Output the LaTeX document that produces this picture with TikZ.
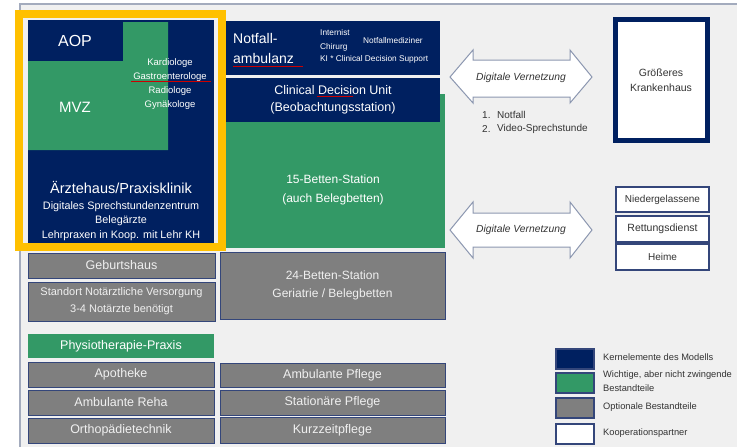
\documentclass[tikz,border=0pt]{standalone}
\usepackage{fontspec}
\setmainfont{Liberation Sans}
\definecolor{navy}{HTML}{002060}
\definecolor{grn}{HTML}{339966}
\definecolor{gry}{HTML}{7F7F7F}
\definecolor{ylw}{HTML}{FFC000}
\definecolor{bg}{HTML}{F0F0F0}
\definecolor{framec}{HTML}{A3ABBD}
\definecolor{edge}{HTML}{34467A}
\definecolor{arr}{HTML}{8C97B0}
\newcommand{\fs}[1]{\fontsize{#1}{#1}\selectfont}
\tikzset{
  box/.style={anchor=north west, inner sep=0pt, outer sep=0pt, align=center},
  navybox/.style={box, fill=navy, text=white},
  grnbox/.style={box, fill=grn, text=white},
  grybox/.style={box, fill=gry, draw=edge, line width=1pt, text=white!94!black},
  coopbox/.style={box, fill=white, draw=edge, line width=1.3pt, text=black!80},
  legbox/.style={box, draw=edge, line width=1.3pt, minimum width=38pt, minimum height=20pt},
  wtxt/.style={text=white, inner sep=0pt, align=center},
  ltxt/.style={text=black!80, inner sep=0pt, anchor=west},
  squig/.style={red!80!black, line width=0.6pt}
}
\begin{document}
\begin{tikzpicture}[x=1pt,y=-1pt]
\useasboundingbox (0,0) rectangle (737,447);
\fill[white] (0,0) rectangle (737,447);
\fill[bg] (20,4) rectangle (737,447);
\draw[framec, line width=2pt] (20,447) -- (20,4) -- (737,4);

% ---------- left column ----------
\node[navybox, minimum width=186pt, minimum height=227pt] (kern) at (28,20) {};
\fill[grn] (28,61) -- (123,61) -- (123,22) -- (168,22) -- (168,150) -- (28,150) -- cycle;
\node[wtxt, font=\fs{16}] (aop) at (75,41) {AOP};
\node[wtxt, font=\fs{15}] (mvz) at (75,107) {MVZ};
\node[wtxt, font=\fontsize{9.5}{14}\selectfont] (fach) at (170,84) {Kardiologe\\Gastroenterologe\\Radiologe\\Gynäkologe};
\draw[squig] (131,81) -- (211,81);
\node[wtxt, font=\fs{14.5}] (aerzte) at (121,188) {Ärztehaus/Praxisklinik};
\node[wtxt, font=\fs{10.8}] (digi) at (121,207) {Digitales Sprechstundenzentrum};
\node[wtxt, font=\fs{10.8}] (beleg) at (121,221) {Belegärzte};
\node[wtxt, font=\fs{10.8}] (lehr) at (121,236) {Lehrpraxen in Koop. mit Lehr KH};
\draw[ylw, line width=8pt] (19,14) rectangle (222,247);

\node[grybox, minimum width=187pt, minimum height=25pt, font=\fs{12.5}] (geburt) at (28,253) {Geburtshaus};
\node[grybox, minimum width=187pt, minimum height=39pt, font=\fontsize{11}{17}\selectfont] (standort) at (28,282) {Standort Notärztliche Versorgung\\3-4 Notärzte benötigt};
\node[grnbox, minimum width=186pt, minimum height=24pt, font=\fs{12.5}] (physio) at (28,334) {Physiotherapie-Praxis};
\node[grybox, minimum width=186pt, minimum height=25pt, font=\fs{12.5}] (apo) at (28,362) {Apotheke};
\node[grybox, minimum width=186pt, minimum height=25pt, font=\fs{12.5}] (reha) at (28,390) {Ambulante Reha};
\node[grybox, minimum width=186pt, minimum height=25pt, font=\fs{12.5}] (ortho) at (28,418) {Orthopädietechnik};

% ---------- middle column ----------
\node[grnbox, minimum width=219pt, minimum height=154pt] (station15) at (226,94) {};
\node[wtxt, font=\fontsize{12}{19}\selectfont] (st15txt) at (333,190) {15-Betten-Station\\(auch Belegbetten)};
\node[navybox, minimum width=214pt, minimum height=54pt] (notfall) at (226,21) {};
\node[wtxt, anchor=west, align=left, font=\fontsize{14}{20}\selectfont] (nftxt) at (233,48) {Notfall-\\ambulanz};
\draw[squig] (233,66) -- (303,66);
\node[wtxt, anchor=west, align=left, font=\fontsize{8.3}{14}\selectfont] (intern) at (320,40) {Internist\\Chirurg};
\node[wtxt, anchor=west, font=\fs{8.3}] (nfmed) at (363,41) {Notfallmediziner};
\node[wtxt, anchor=west, font=\fs{8.3}] (ki) at (320,59) {KI * Clinical Decision Support};
\node[navybox, minimum width=214pt, minimum height=44pt] (cdu) at (226,78) {};
\node[wtxt, font=\fontsize{12.5}{17.5}\selectfont] (cdutxt) at (333,100) {Clinical Decision Unit\\(Beobachtungsstation)};
\draw[squig] (317,96) -- (353,96);
\node[grybox, minimum width=225pt, minimum height=67pt, font=\fontsize{12}{18}\selectfont] (station24) at (220,252) {24-Betten-Station\\Geriatrie / Belegbetten};
\node[grybox, minimum width=225pt, minimum height=24pt, font=\fs{12.5}] (ambpfl) at (220,363) {Ambulante Pflege};
\node[grybox, minimum width=225pt, minimum height=25pt, font=\fs{12.5}] (statpfl) at (220,390) {Stationäre Pflege};
\node[grybox, minimum width=225pt, minimum height=26pt, font=\fs{12.5}] (kurz) at (220,417) {Kurzzeitpflege};

% ---------- right side ----------
\draw[arr, fill=white, line width=1pt] (450,77) -- (473,50) -- (473,60) -- (570,60) -- (570,50) -- (592,77) -- (570,103) -- (570,97) -- (473,97) -- (473,103) -- cycle;
\node[text=black!80, inner sep=0pt, font=\itshape\fs{10.3}] (dv1) at (521,78) {Digitale Vernetzung};
\node[ltxt, font=\fs{10}] (n1) at (482,115) {1.};
\node[ltxt, font=\fs{10}] (n1t) at (497,115) {Notfall};
\node[ltxt, font=\fs{10}] (n2) at (482,129) {2.};
\node[ltxt, font=\fs{10}] (n2t) at (497,129) {Video-Sprechstunde};

\node[box, fill=white, draw=navy, line width=5pt, minimum width=92pt, minimum height=121pt] (kh) at (615.5,19.5) {};
\node[text=black!80, inner sep=0pt, align=center, font=\fontsize{10.5}{15}\selectfont] (khtxt) at (661,80) {Größeres\\Krankenhaus};

\draw[arr, fill=white, line width=1pt] (450,230) -- (473,202) -- (473,213) -- (570,213) -- (570,202) -- (592,230) -- (570,258) -- (570,247) -- (473,247) -- (473,258) -- cycle;
\node[text=black!80, inner sep=0pt, font=\itshape\fs{10.3}] (dv2) at (521,230) {Digitale Vernetzung};

\node[coopbox, minimum width=93pt, minimum height=25pt, font=\fs{10}] (nieder) at (616,187) {Niedergelassene};
\node[coopbox, minimum width=93pt, minimum height=26pt, font=\fs{10.5}] (rett) at (616,216) {Rettungsdienst};
\node[coopbox, minimum width=93pt, minimum height=26pt, font=\fs{10}] (heime) at (616,244) {Heime};

% ---------- legend ----------
\node[legbox, fill=navy] (l1) at (556,349) {};
\node[legbox, fill=grn] (l2) at (556,373) {};
\node[legbox, fill=gry] (l3) at (556,398) {};
\node[legbox, fill=white] (l4) at (556,424) {};
\node[ltxt, font=\fs{9.3}] (l1t) at (603,357) {Kernelemente des Modells};
\node[ltxt, align=left, font=\fontsize{9.3}{14}\selectfont] (l2t) at (603,381) {Wichtige, aber nicht zwingende\\Bestandteile};
\node[ltxt, font=\fs{9.3}] (l3t) at (603,407) {Optionale Bestandteile};
\node[ltxt, font=\fs{9.3}] (l4t) at (603,433) {Kooperationspartner};
\end{tikzpicture}
\end{document}
